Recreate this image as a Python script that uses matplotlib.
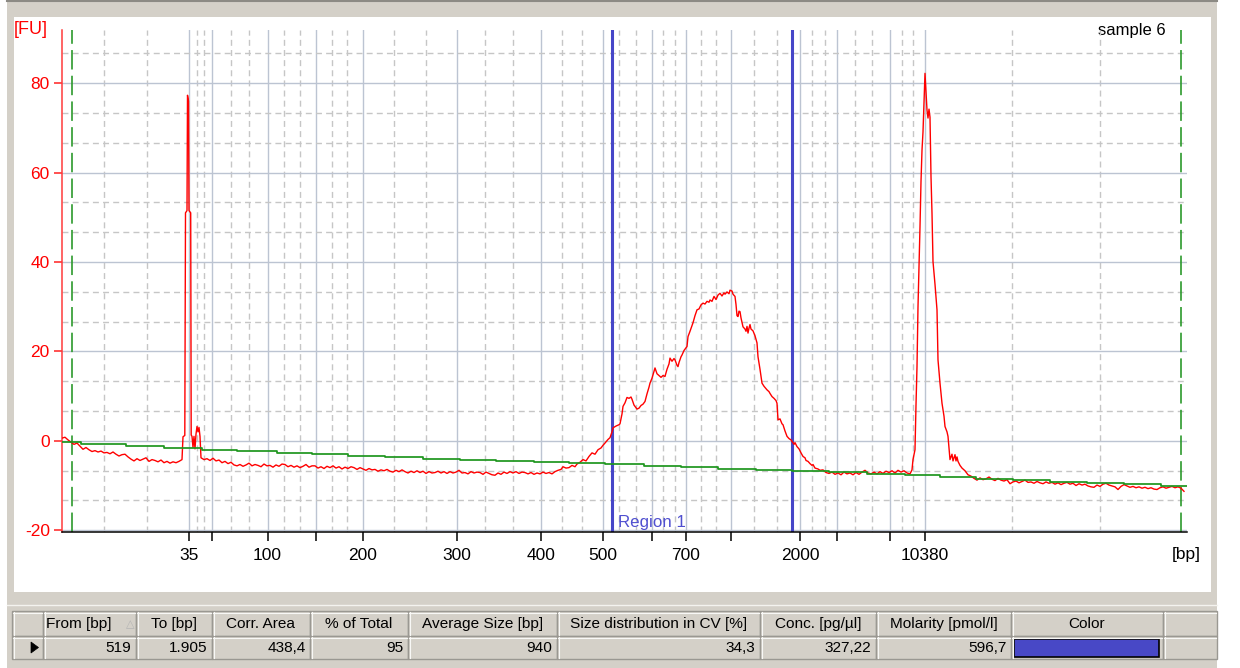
import numpy as np
import matplotlib
matplotlib.use("Agg")
import matplotlib.pyplot as plt
from matplotlib.patches import Rectangle, Polygon
from matplotlib.ticker import FixedLocator, FixedFormatter, NullFormatter

plt.rcParams['font.family'] = ['Liberation Sans', 'DejaVu Sans']
plt.rcParams['axes.unicode_minus'] = False
plt.rcParams['lines.scale_dashes'] = False

# ---------------- data ----------------
SAMPLE_NAME = "sample 6"
X_RANGE_S = (40.10, 96.35)          # migration time window [s]
Y_RANGE_FU = (-20.4, 91.9)
Y_TICKS = [-20, 0, 20, 40, 60, 80]

LADDER_BP = [35, 50, 100, 150, 200, 300, 400, 500, 600, 700, 1000, 2000, 3000, 7000, 10380]
LADDER_T = [46.45, 47.60, 50.38, 52.80, 55.15, 59.85, 64.05, 67.15, 69.60, 71.30,
            73.55, 77.00, 78.85, 81.50, 83.25]
LABELED_BP = [35, 100, 200, 300, 400, 500, 700, 2000, 10380]

MARKER_T = [40.60, 96.05]           # start / end of analysis (green dashed)
REGION_T = [67.60, 76.60]           # region 1 limits (519 .. 1905 bp)
REGION_NAME = "Region 1"

# trace segment 1 (uniform 0.15 s sampling from 40.10 s)
SEG1_T0 = 40.10
SEG1_FU = [0.6, 0.8, 0.2, -0.3, -0.8, -0.5, -1.2, -1.9, -1.5, -2.0,
           -2.4, -2.2, -2.5, -2.3, -2.7, -2.6, -2.9, -2.5, -3.0, -3.4,
           -3.1, -3.0, -3.6, -4.1, -4.5, -4.0, -4.4, -4.1, -3.8, -4.6,
           -4.2, -4.4, -4.7, -4.3, -4.9, -4.6, -5.0, -4.7, -4.9, -4.6,
           -4.2]
# lower marker (35 bp)
LOWER_T = [46.15, 46.24, 46.275, 46.35, 46.375, 46.425, 46.45, 46.535, 46.56, 46.60,
           46.65, 46.70, 46.75, 46.80, 46.85, 46.90, 46.95, 47.00, 47.05]
LOWER_FU = [0.9, 1.2, 51.0, 51.5, 77.3, 76.0, 51.5, 51.0, 1.3, 1.0,
            -1.5, 1.0, -1.8, 1.5, 3.2, 2.0, 3.0, 1.0, -3.8]
# trace segment 2 (uniform 0.15 s sampling from 47.20 s)
SEG2_T0 = 47.20
SEG2_FU = [-4.2, -4.0, -4.4, -3.9, -4.5, -4.3, -4.9, -4.6, -5.1, -4.8,
           -5.4, -5.6, -5.3, -5.7, -5.4, -5.0, -5.6, -5.3, -5.5, -5.8,
           -5.2, -5.6, -5.5, -5.9, -5.4, -5.7, -5.2, -5.3, -5.8, -5.5,
           -5.9, -5.6, -6.0, -5.7, -5.3, -5.9, -5.6, -5.6, -6.1, -5.8,
           -6.2, -5.7, -6.0, -5.6, -6.1, -5.8, -6.3, -5.9, -6.2, -5.8,
           -6.0, -6.4, -6.0, -6.3, -6.6, -6.2, -6.5, -6.4, -6.8, -6.5,
           -6.7, -6.4, -6.8, -7.0, -6.6, -6.9, -6.5, -6.9, -7.2, -6.8,
           -7.1, -6.7, -7.1, -6.8, -7.3, -6.9, -7.2, -7.1, -6.8, -7.2,
           -6.9, -7.3, -6.9, -7.2, -7.0, -6.6, -7.2, -7.1, -7.4, -6.9,
           -7.2, -7.0, -7.1, -7.5, -7.0, -7.3, -7.6, -7.7, -7.2, -7.5,
           -7.0, -7.3, -6.9, -7.2, -6.9, -7.3, -7.0, -7.1, -7.4, -7.1,
           -7.5, -7.2, -7.4, -7.0, -7.3, -7.1, -7.4, -6.9, -6.6]
# library smear
SMEAR_T = [65.05, 65.15, 65.30, 65.45, 65.60, 65.75, 65.85, 66.00, 66.15, 66.30,
           66.45, 66.60, 66.75, 66.90, 67.05, 67.15, 67.25, 67.40, 67.50, 67.60,
           67.65, 67.80, 67.95, 68.00, 68.10, 68.15, 68.25, 68.35, 68.45, 68.55,
           68.60, 68.70, 68.75, 68.85, 68.95, 69.05, 69.15, 69.25, 69.35, 69.45,
           69.50, 69.60, 69.70, 69.75, 69.85, 69.95, 70.05, 70.15, 70.25, 70.35,
           70.45, 70.50, 70.60, 70.70, 70.75, 70.85, 70.90, 70.95, 71.05, 71.10,
           71.20, 71.30, 71.35, 71.40, 71.50, 71.60, 71.65, 71.75, 71.85, 71.95,
           72.05, 72.15, 72.25, 72.35, 72.45, 72.50, 72.60, 72.70, 72.80, 72.90,
           73.00, 73.10, 73.20, 73.25, 73.35, 73.45, 73.50, 73.60, 73.65, 73.75,
           73.80, 73.85, 73.90, 73.95, 74.00, 74.05, 74.15, 74.25, 74.30, 74.35,
           74.40, 74.45, 74.50, 74.55, 74.65, 74.75, 74.85, 74.90, 75.00, 75.10,
           75.20, 75.35, 75.45, 75.50, 75.60, 75.70, 75.80, 75.85, 75.90, 76.00,
           76.10, 76.15, 76.25, 76.35, 76.45, 76.55, 76.60, 76.70, 76.75, 76.85,
           76.95, 77.05, 77.15, 77.25, 77.30, 77.40, 77.50, 77.60, 77.65, 77.75,
           77.90, 78.00, 78.15, 78.30, 78.45]
SMEAR_FU = [-6.4, -5.8, -6.1, -6.0, -5.5, -5.8, -5.2, -4.8, -4.2, -4.5,
            -3.5, -2.7, -3.0, -2.0, -1.6, -1.0, -0.5, 0.3, 0.7, 2.0,
            2.9, 3.3, 3.6, 3.8, 6.0, 7.7, 8.5, 9.7, 9.5, 9.8,
            9.3, 8.0, 7.7, 7.1, 7.3, 7.9, 8.2, 8.8, 10.5, 12.0,
            12.9, 14.0, 15.5, 16.3, 15.0, 14.6, 14.2, 14.6, 14.4, 16.0,
            17.2, 18.5, 17.8, 18.4, 18.1, 16.9, 16.6, 17.5, 18.8, 19.2,
            20.2, 20.8, 21.1, 23.3, 24.5, 25.8, 26.4, 28.0, 29.3, 29.5,
            30.4, 30.8, 30.6, 31.2, 31.0, 31.5, 31.2, 32.3, 31.6, 32.6,
            33.0, 32.4, 33.1, 32.8, 33.3, 32.9, 33.7, 33.5, 32.8, 32.3,
            30.5, 28.0, 27.8, 29.0, 28.9, 27.5, 25.5, 25.0, 24.5, 25.6,
            24.1, 25.2, 26.0, 25.0, 24.6, 23.5, 21.9, 18.8, 16.0, 12.9,
            12.2, 11.4, 11.0, 10.6, 9.9, 9.5, 9.0, 8.4, 4.7, 4.9,
            3.8, 3.6, 2.2, 1.0, 0.5, 0.2, -0.1, -0.8, -0.4, -1.3,
            -1.8, -2.7, -3.5, -3.8, -4.4, -4.6, -5.1, -5.5, -5.3, -6.1,
            -6.3, -6.6, -6.5, -7.1, -7.3]
# trace segment 3 (uniform 0.15 s sampling from 78.60 s)
SEG3_T0 = 78.60
SEG3_FU = [-7.0, -7.5, -7.2, -7.6, -7.0, -7.4, -7.2, -7.6, -7.1, -7.5,
           -7.0, -6.6, -7.2, -7.4, -7.0, -7.4, -6.9, -7.3, -6.8, -7.1,
           -6.7, -7.2, -6.6, -7.0, -6.7, -7.2, -7.4]
# upper marker (10380 bp)
UPPER_T = [82.60, 82.65, 82.75, 82.80, 82.85, 82.90, 83.00, 83.05, 83.10, 83.15,
           83.20, 83.25, 83.30, 83.35, 83.40, 83.45, 83.50, 83.55, 83.60, 83.65,
           83.75, 83.85, 83.90, 84.00, 84.10, 84.20, 84.25, 84.35, 84.40, 84.50,
           84.60, 84.65, 84.75, 84.80, 84.85, 84.90, 85.00, 85.10, 85.25, 85.40,
           85.55, 85.70, 85.85]
UPPER_FU = [-6.5, -4.2, -2.0, 8.0, 16.6, 30.0, 47.9, 58.0, 65.0, 69.1,
            76.0, 82.2, 78.0, 74.0, 72.2, 74.2, 72.4, 59.1, 50.9, 40.1,
            35.0, 29.3, 18.1, 12.9, 8.4, 5.5, 3.2, 2.0, 1.0, -4.2,
            -3.0, -4.5, -3.1, -4.5, -3.6, -4.6, -5.5, -6.1, -6.7, -7.6,
            -7.9, -8.4, -8.8]
# trace segment 4 (uniform 0.15 s sampling from 86.00 s)
SEG4_T0 = 86.00
SEG4_FU = [-8.3, -8.7, -8.5, -8.1, -8.6, -8.9, -8.4, -8.8, -9.0, -8.7,
           -9.6, -9.2, -9.0, -9.4, -9.1, -8.8, -9.3, -9.2, -9.5, -9.1,
           -9.4, -9.6, -9.2, -9.5, -9.3, -9.7, -9.4, -9.8, -9.5, -9.3,
           -9.7, -9.5, -10.0, -9.6, -9.9, -9.7, -10.1, -10.3, -10.4, -9.9,
           -10.2, -9.7, -9.5, -9.9, -10.1, -10.3, -10.9, -10.2, -9.8, -10.1,
           -10.4, -10.2, -10.5, -10.3, -10.6, -10.4, -10.7, -10.5, -10.8, -10.9,
           -10.5, -10.3, -10.6, -10.4, -10.2, -10.5, -10.3, -10.6, -11.3]
SAMPLE_STEP_S = 0.15

# baseline (green, step-wise)
BASE_T = [40.10, 41.05, 43.30, 45.20, 47.10, 48.85, 50.85, 52.60, 54.40, 56.25,
          58.15, 60.00, 61.80, 63.70, 65.45, 67.25, 69.20, 71.05, 72.90, 74.80,
          76.60, 78.45, 80.35, 82.25, 84.00, 85.80, 87.65, 89.50, 91.35, 93.20,
          95.05, 96.35]
BASE_FU = [-0.3, -0.75, -1.2, -1.6, -1.95, -2.3, -2.65, -3.0, -3.35, -3.7,
           -4.0, -4.3, -4.55, -4.8, -5.0, -5.2, -5.55, -5.9, -6.2, -6.45,
           -6.75, -7.05, -7.35, -7.7, -8.0, -8.5, -8.8, -9.15, -9.4, -9.65,
           -10.1, -10.2]

# results table
TABLE_COLUMNS = ['', 'From [bp]', 'To [bp]', 'Corr. Area', '% of Total', 'Average Size [bp]',
                 'Size distribution in CV [%]', 'Conc. [pg/µl]', 'Molarity [pmol/l]', 'Color', '']
TABLE_ROW = ['', '519', '1.905', '438,4', '95', '940', '34,3', '327,22', '596,7', '', '']
REGION_COLOR = '#4848c6'

# ---------------- assemble trace ----------------
def uniform(t0, vals):
    return list(t0 + SAMPLE_STEP_S * np.arange(len(vals)))

trace_t = (uniform(SEG1_T0, SEG1_FU) + LOWER_T + uniform(SEG2_T0, SEG2_FU) + SMEAR_T
           + uniform(SEG3_T0, SEG3_FU) + UPPER_T + uniform(SEG4_T0, SEG4_FU))
trace_fu = SEG1_FU + LOWER_FU + SEG2_FU + SMEAR_FU + SEG3_FU + UPPER_FU + SEG4_FU
assert len(trace_t) == len(trace_fu)
assert len(SMEAR_T) == len(SMEAR_FU) and len(UPPER_T) == len(UPPER_FU) and len(LOWER_T) == len(LOWER_FU)

# ---------------- figure ----------------
W, H = 1240, 668
fig = plt.figure(figsize=(W / 100, H / 100), dpi=100, facecolor='white')

bg = fig.add_axes([0, 0, 1, 1])
bg.set_xlim(0, W)
bg.set_ylim(H, 0)
bg.axis('off')
bg.set_zorder(0)
bg.add_patch(Rectangle((7, 0), 1210, H, fc='#d4d0c8', ec='none'))
bg.plot([7, 1217], [1, 1], color='#8c8a84', lw=1.5)
bg.add_patch(Rectangle((14, 17), 1197, 575, fc='white', ec='none'))
bg.plot([7, 1217], [605, 605], color='#f4f3ef', lw=1)

ax = fig.add_axes([62 / W, 1 - 532 / H, (1187 - 62) / W, (532 - 30) / H])
ax.set_zorder(1)
ax.set_facecolor('none')
ax.set_xlim(*X_RANGE_S)
ax.set_ylim(*Y_RANGE_FU)

# ticks
ax.xaxis.set_major_locator(FixedLocator(LADDER_T))
ax.xaxis.set_major_formatter(FixedFormatter([str(b) if b in LABELED_BP else '' for b in LADDER_BP]))
edges = [X_RANGE_S[0]] + LADDER_T + [X_RANGE_S[1]]
xminor = []
for a, b in zip(edges[:-1], edges[1:]):
    xminor += [a + (b - a) / 3, a + 2 * (b - a) / 3]
ax.xaxis.set_minor_locator(FixedLocator(xminor))
ax.xaxis.set_minor_formatter(NullFormatter())

ax.yaxis.set_major_locator(FixedLocator(Y_TICKS))
yminor = []
for v in Y_TICKS:
    for k in (1, 2):
        yv = v + 20 * k / 3
        if yv < Y_RANGE_FU[1]:
            yminor.append(yv)
ax.yaxis.set_minor_locator(FixedLocator(yminor))
ax.yaxis.set_minor_formatter(NullFormatter())

ax.tick_params(axis='x', which='major', direction='out', length=6.5, width=1.1,
               color='black', labelsize=12.5, pad=5, labelcolor='black')
ax.tick_params(axis='y', which='major', direction='out', length=5.8, width=1.1,
               color='#ff2020', labelsize=12.5, pad=3, labelcolor='#ff0000')
ax.tick_params(which='minor', length=0)

ax.grid(which='major', color='#bcc4d2', lw=1.0, ls='-')
ax.grid(which='minor', color='#c6c6c6', lw=1.0, ls=(0, (4.3, 3.0)))
ax.set_axisbelow(True)

for s in ('top', 'right'):
    ax.spines[s].set_visible(False)
ax.spines['left'].set_color('#ff3a3a')
ax.spines['left'].set_linewidth(1.1)
ax.spines['bottom'].set_color('black')
ax.spines['bottom'].set_linewidth(1.1)

# markers and region
for t in MARKER_T:
    ax.axvline(t, color='#2c9a2c', lw=1.2, ls=(0, (14, 4.5)), zorder=2)
for t in REGION_T:
    ax.axvline(t, color='#4646c8', lw=2.2, zorder=2)
ax.annotate(REGION_NAME, xy=(REGION_T[0], -18.2), xytext=(4, 0), textcoords='offset points',
            color='#5050d0', fontsize=12.2, va='center', ha='left')

# signal and baseline
ax.plot(trace_t, trace_fu, color='#ff0000', lw=1.0, zorder=4)
ax.step(BASE_T, BASE_FU, where='post', color='#1e961e', lw=1.25, zorder=5)

# axis captions
bg.text(14, 30, '[FU]', color='#ff0000', fontsize=13, ha='left', va='center')
bg.text(1166, 30, SAMPLE_NAME, color='black', fontsize=12, ha='right', va='center')
bg.text(1186, 555, '[bp]', color='black', fontsize=12.5, ha='center', va='center')

# ---------------- table ----------------
col_x = [12, 43, 136, 212, 310, 408, 557, 760, 876, 1011, 1163, 1217]
hy0, hy1, dy1 = 611, 636, 659
tfs = 11.1
for i in range(len(col_x) - 1):
    x0, x1 = col_x[i], col_x[i + 1]
    for (y0, y1) in ((hy0, hy1), (hy1, dy1)):
        bg.add_patch(Rectangle((x0, y0), x1 - x0, y1 - y0, fc='#d4d0c8', ec='#9a9892', lw=1.0))
        bg.plot([x0 + 1, x1 - 1], [y0 + 1.5, y0 + 1.5], color='#f8f8f6', lw=0.8)
        bg.plot([x0 + 1.5, x0 + 1.5], [y0 + 1, y1 - 1], color='#f8f8f6', lw=0.8)
    name = TABLE_COLUMNS[i]
    if name:
        if i == 1:
            bg.text(x0 + 3, (hy0 + hy1) / 2 + 0.5, name, fontsize=tfs, ha='left', va='center', color='black')
            bg.text(x1 - 6, (hy0 + hy1) / 2 + 0.5, '△', fontsize=8, ha='center', va='center',
                    color='#b4b4b4', family=['DejaVu Sans'])
        else:
            bg.text((x0 + x1) / 2, (hy0 + hy1) / 2 + 0.5, name, fontsize=tfs, ha='center',
                    va='center', color='black')
    val = TABLE_ROW[i]
    if val:
        bg.text(x1 - 4.5, (hy1 + dy1) / 2 + 0.5, val, fontsize=tfs, ha='right', va='center', color='black')

bg.add_patch(Polygon([[31, 642], [31, 653], [38.5, 647.5]], closed=True, fc='black', ec='black', lw=0.5))
bg.add_patch(Rectangle((1014, 638.5), 145, 18, fc=REGION_COLOR, ec='black', lw=1.2))

fig.savefig('out.png', dpi=100, facecolor='white')
